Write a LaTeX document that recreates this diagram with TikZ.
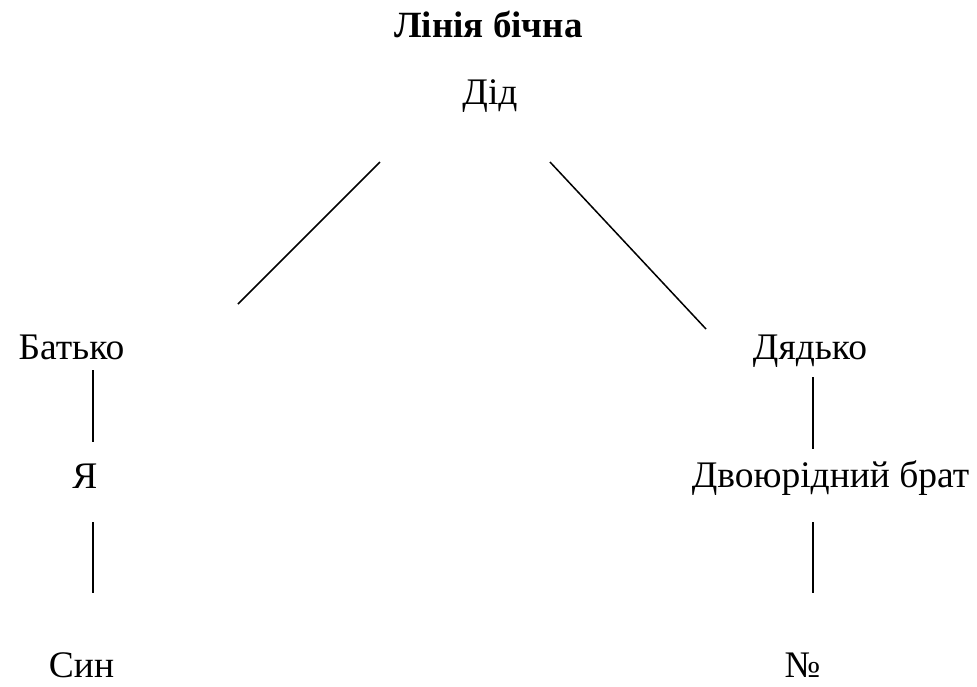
\documentclass[tikz,border=0pt]{standalone}
\usepackage{fontspec}
\setmainfont{Liberation Serif}
\begin{document}
\begin{tikzpicture}[x=1pt,y=-1pt,
  lbl/.style={font=\fontsize{37.5}{42}\selectfont, inner sep=0pt, anchor=base},
  ttl/.style={font=\fontsize{37}{42}\selectfont\bfseries, inner sep=0pt, anchor=base},
  ln/.style={line width=1.5pt}]
\useasboundingbox (0,0) rectangle (977,686);
\node[ttl] (title) at (488.5,37) {Лінія бічна};
\node[lbl] (did) at (490,104) {Дід};
\node[lbl] (batko) at (71.5,359) {Батько};
\node[lbl] (diadko) at (810,359) {Дядько};
\node[lbl] (ya) at (85,488) {Я};
\node[lbl] (brat) at (830.5,487) {Двоюрідний брат};
\node[lbl] (syn) at (81.5,677) {Син};
\node[lbl] (nr) at (802.5,677) {№};
\coordinate (a1) at (380,162);
\coordinate (a2) at (238,304);
\coordinate (b1) at (550,162);
\coordinate (b2) at (706,329);
\coordinate (c1) at (93,370);
\coordinate (c2) at (93,442);
\coordinate (d1) at (93,522);
\coordinate (d2) at (93,593);
\coordinate (e1) at (813,377);
\coordinate (e2) at (813,449);
\coordinate (f1) at (813,522);
\coordinate (f2) at (813,593);
\draw[ln] (a1) -- (a2);
\draw[ln] (b1) -- (b2);
\draw[ln] (c1) -- (c2);
\draw[ln] (d1) -- (d2);
\draw[ln] (e1) -- (e2);
\draw[ln] (f1) -- (f2);
\end{tikzpicture}
\end{document}
